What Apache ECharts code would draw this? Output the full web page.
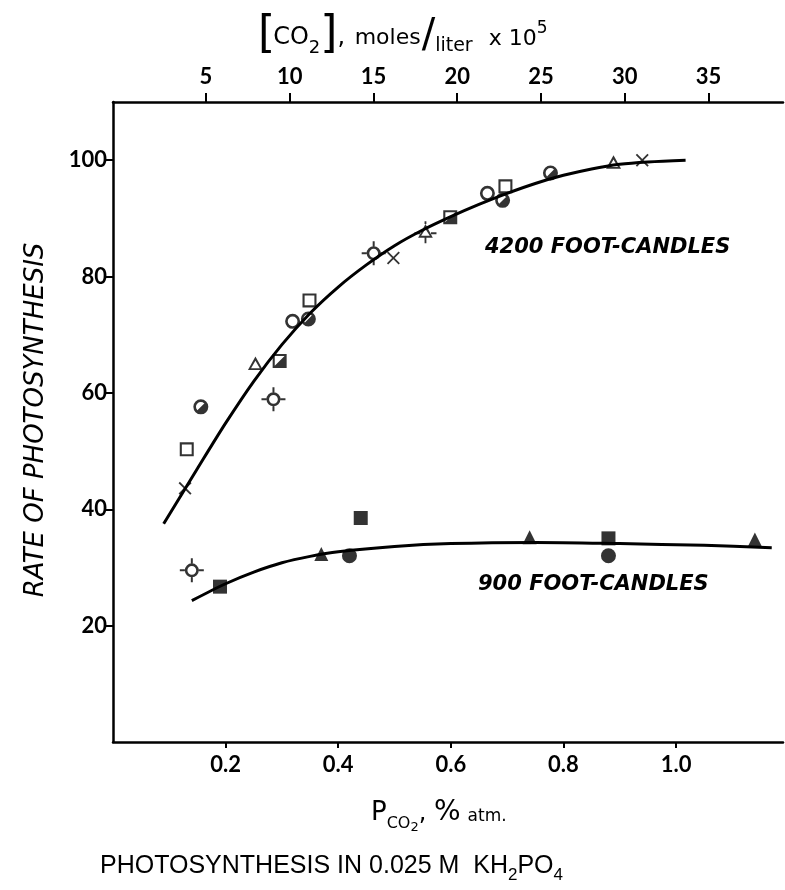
<!DOCTYPE html>
<html>
<head>
<meta charset="utf-8">
<script src="https://cdn.jsdelivr.net/npm/echarts@6/dist/echarts.min.js"></script>
<style>
  html, body { margin: 0; padding: 0; background: #fff; }
  #main { width: 785px; height: 890px; }
</style>
</head>
<body>
<div id="main"></div>
<script>
// fitted curves: [P_CO2, rate]
var curve4200 = [[0.09, 37.5], [0.15, 47], [0.2, 54.8], [0.25, 62], [0.3, 68.3], [0.35, 73.7], [0.4, 78.2],
  [0.45, 82], [0.5, 85.3], [0.55, 88], [0.6, 90.3], [0.65, 92.4], [0.7, 94.3], [0.75, 96], [0.8, 97.4],
  [0.85, 98.5], [0.9, 99.3], [0.95, 99.7], [1.017, 100]];
var curve900 = [[0.14, 24.3], [0.2, 27.2], [0.25, 29.2], [0.3, 30.8], [0.35, 31.9], [0.4, 32.7],
  [0.5, 33.6], [0.6, 34.1], [0.75, 34.3], [0.9, 34.1], [1.05, 33.8], [1.17, 33.4]];

// 4200 foot-candles points
var openCircle4200 = [[0.319, 72.3], [0.665, 94.3]];
var halfCircle4200 = [[0.156, 57.6], [0.347, 72.7], [0.692, 93.1], [0.777, 97.8]];
var openSquare4200 = [[0.131, 50.3], [0.349, 75.9], [0.697, 95.5]];
var halfSquare4200 = [[0.296, 65.5], [0.599, 90.2]];
var openTriangle4200 = [[0.253, 65.1], [0.889, 99.7]];
var tickTriangle4200 = [[0.555, 87.6]];
var cross4200 = [[0.128, 43.6], [0.498, 83.2], [0.94, 100]];
var tickCircle4200 = [[0.285, 58.9], [0.463, 84.0]];

// 900 foot-candles points
var square900 = [[0.19, 26.7], [0.44, 38.5], [0.88, 35]];
var triangle900 = [[0.37, 32.3], [0.74, 35.2], [1.14, 34.8]];
var circle900 = [[0.42, 32], [0.88, 32]];
var tickCircle900 = [[0.14, 29.5]];

// tick labels
var pTicks = [0.2, 0.4, 0.6, 0.8, 1.0];
var co2Ticks = [5, 10, 15, 20, 25, 30, 35];
var rateTicks = [20, 40, 60, 80, 100];

// symbol shapes
var RING = 'M10 0A10 10 0 1 1 10 20A10 10 0 1 1 10 0Z M10 3.5A6.5 6.5 0 1 0 10 16.5A6.5 6.5 0 1 0 10 3.5Z';
var HALF_RING = RING + ' M14.6 5.4A6.5 6.5 0 0 1 5.4 14.6Z';
var SQ = 'M0 0H20V20H0Z M3 3V17H17V3Z';
var HALF_SQ = SQ + ' M17 3V17H3Z';
var TRI = 'M10 0L20 18H0Z M10 5.6L4.2 15.6H15.8Z';
var TICK_TRI = 'M12 3L20 18H4Z M12 8.4L7.3 15.6H16.7Z M11 0H13V3H11Z M11 18H13V24H11Z M0 12H6V14H0Z M18 12H24V14H18Z';
var CROSS = 'M0 2L2 0L10 8L18 0L20 2L12 10L20 18L18 20L10 12L2 20L0 18L8 10Z';
var TICK_RING = 'M12 5A7 7 0 1 1 12 19A7 7 0 1 1 12 5Z M12 7.6A4.4 4.4 0 1 0 12 16.4A4.4 4.4 0 1 0 12 7.6Z' +
  ' M11 0H13V5H11Z M11 19H13V24H11Z M0 11H5V13H0Z M19 11H24V13H19Z';

function pts(data, symbol, size) {
  return {
    type: 'scatter', data: data, symbol: symbol, symbolSize: size, symbolKeepAspect: true,
    itemStyle: { color: '#000' }, z: 5, silent: true
  };
}

function curve(data) {
  return {
    type: 'line', data: data, smooth: 0.3, showSymbol: false, silent: true,
    lineStyle: { color: '#000', width: 3 }, z: 3
  };
}

var measureCtx = document.createElement('canvas').getContext('2d');
// lays pieces of text side by side, for sub/superscripts
function runText(x, baseY, parts) {
  var out = [];
  parts.forEach(function (p) {
    var font = (p.italic ? 'italic ' : '') + (p.weight || 'normal') + ' ' + p.size + 'px ' + (p.family || 'DejaVu Sans');
    measureCtx.font = font;
    out.push({
      type: 'text', x: x, y: baseY + (p.dy || 0), silent: true,
      style: { text: p.t, font: font, fill: '#000', textVerticalAlign: 'bottom', verticalAlign: 'bottom' }
    });
    x += measureCtx.measureText(p.t).width + (p.gap || 0);
  });
  return out;
}

var labelFont = { fontFamily: 'Lato', fontWeight: 'bold', fontSize: 22, color: '#000' };
var axisLine = { show: true, lineStyle: { color: '#000', width: 2.5 } };

var graphics = [].concat(
  runText(258, 58, [
    { t: '[', size: 44, gap: -2 }, { t: 'CO', size: 24, dy: -8 }, { t: '2', size: 18, dy: -1 },
    { t: ']', size: 44 }, { t: ', ', size: 24, dy: -8, gap: 2 }, { t: 'moles', size: 22, dy: -9, gap: 1 },
    { t: '/', size: 40, dy: -1 }, { t: 'liter', size: 19, dy: -2, gap: 16 },
    { t: 'x 10', size: 22, dy: -8 }, { t: '5', size: 17, dy: -21 }
  ]),
  runText(371, 832, [
    { t: 'P', size: 26, dy: -6 }, { t: 'CO', size: 16, dy: 0 }, { t: '2', size: 13, dy: 2 },
    { t: ', ', size: 24, dy: -6 }, { t: '%', size: 28, dy: -5, gap: 7 }, { t: 'atm.', size: 17, dy: -7 }
  ]),
  runText(100, 884, [
    { t: 'PHOTOSYNTHESIS IN 0.025 M  KH', size: 25, family: 'Liberation Sans', dy: -5 },
    { t: '2', size: 17, family: 'Liberation Sans', dy: 0 },
    { t: 'PO', size: 25, family: 'Liberation Sans', dy: -5 },
    { t: '4', size: 17, family: 'Liberation Sans', dy: 0 }
  ]),
  [
    {
      type: 'text', x: 36, y: 420, rotation: Math.PI / 2, silent: true,
      style: { text: 'RATE OF PHOTOSYNTHESIS', font: 'italic 500 26px DejaVu Sans', fill: '#000',
        textAlign: 'center', align: 'center', textVerticalAlign: 'middle', verticalAlign: 'middle' }
    },
    {
      type: 'text', x: 485, y: 248, silent: true,
      style: { text: '4200 FOOT-CANDLES', font: 'italic bold 21px DejaVu Sans', fill: '#000',
        textVerticalAlign: 'middle', verticalAlign: 'middle' }
    },
    {
      type: 'text', x: 478, y: 585, silent: true,
      style: { text: '900 FOOT-CANDLES', font: 'italic bold 21px DejaVu Sans', fill: '#000',
        textVerticalAlign: 'middle', verticalAlign: 'middle' }
    }
  ]
);

var chart = echarts.init(document.getElementById('main'));
chart.setOption({
  animation: false,
  backgroundColor: '#fff',
  grid: { left: 113, right: 2, top: 102, bottom: 148 },
  xAxis: [
    {
      type: 'value', position: 'bottom', min: 0, max: 1.19,
      axisLine: axisLine, splitLine: { show: false },
      axisTick: { show: true, customValues: pTicks, length: 6, lineStyle: { width: 2, color: '#000' } },
      axisLabel: Object.assign({ customValues: pTicks, margin: 12,
        formatter: function (v) { return v.toFixed(1); } }, labelFont)
    },
    {
      type: 'value', position: 'top', min: -0.55, max: 39.45,
      axisLine: axisLine, splitLine: { show: false },
      axisTick: { show: true, customValues: co2Ticks, length: 9, lineStyle: { width: 2, color: '#000' } },
      axisLabel: Object.assign({ customValues: co2Ticks, margin: 14 }, labelFont)
    }
  ],
  yAxis: {
    type: 'value', min: 0, max: 110,
    axisLine: axisLine, splitLine: { show: false },
    axisTick: { show: true, customValues: rateTicks, length: 7, lineStyle: { width: 2, color: '#000' } },
    axisLabel: Object.assign({ customValues: rateTicks, margin: 6 }, labelFont)
  },
  graphic: graphics,
  series: [
    curve(curve4200),
    curve(curve900),
    pts(openCircle4200, 'path://' + RING, 15),
    pts(halfCircle4200, 'path://' + HALF_RING, 15),
    pts(openSquare4200, 'path://' + SQ, 14),
    pts(halfSquare4200, 'path://' + HALF_SQ, 14),
    pts(openTriangle4200, 'path://' + TRI, 15),
    pts(tickTriangle4200, 'path://' + TICK_TRI, 22),
    pts(cross4200, 'path://' + CROSS, 13),
    pts(tickCircle4200, 'path://' + TICK_RING, 24),
    pts(square900, 'rect', 14),
    pts(triangle900, 'triangle', 14),
    pts(circle900, 'circle', 15),
    pts(tickCircle900, 'path://' + TICK_RING, 24)
  ]
});
</script>
</body>
</html>
